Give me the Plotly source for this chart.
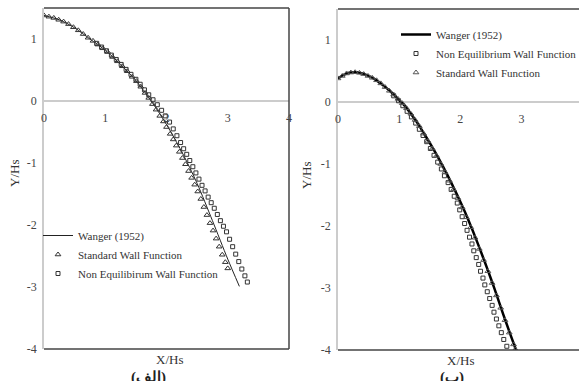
import plotly.graph_objects as go

# ---------------- data: panel (a) ----------------
a_wanger_x = [0, 0.25, 0.5, 0.75, 1.0, 1.25, 1.5, 1.75, 2.0, 2.25, 2.5, 2.75, 3.0, 3.19]
a_wanger_y = [1.38, 1.31, 1.18, 1.0, 0.82, 0.59, 0.33, 0.0, -0.38, -0.82, -1.33, -1.93, -2.55, -2.99]

a_std_x = [0.00, 0.08, 0.16, 0.24, 0.32, 0.40, 0.48, 0.56, 0.64, 0.72, 0.80, 0.88, 0.96, 1.04,
           1.12, 1.20, 1.28, 1.36, 1.44, 1.51, 1.58, 1.65, 1.71, 1.77, 1.83, 1.89, 1.95, 2.00,
           2.06, 2.11, 2.16, 2.21, 2.26, 2.31, 2.36, 2.41, 2.46, 2.51, 2.56, 2.61, 2.66, 2.71,
           2.76, 2.81, 2.86, 2.91, 2.96, 3.00]
a_std_y = [1.38, 1.36, 1.34, 1.31, 1.28, 1.24, 1.19, 1.14, 1.08, 1.02, 0.97, 0.91, 0.85, 0.79,
           0.71, 0.64, 0.56, 0.48, 0.39, 0.32, 0.23, 0.13, 0.05, -0.05, -0.14, -0.24, -0.33, -0.42,
           -0.53, -0.62, -0.72, -0.82, -0.92, -1.02, -1.13, -1.24, -1.35, -1.46, -1.58, -1.71, -1.84, -1.97,
           -2.09, -2.22, -2.35, -2.48, -2.60, -2.70]

a_neq_x = [0.86, 0.94, 1.02, 1.10, 1.18, 1.26, 1.34, 1.42, 1.50, 1.57, 1.64, 1.71, 1.78, 1.85,
           1.92, 1.98, 2.05, 2.11, 2.17, 2.23, 2.28, 2.33, 2.38, 2.43, 2.48, 2.53, 2.58, 2.63,
           2.68, 2.73, 2.78, 2.83, 2.88, 2.93, 2.98, 3.03, 3.08, 3.13, 3.18, 3.23, 3.28, 3.32]
a_neq_y = [0.93, 0.87, 0.81, 0.74, 0.67, 0.59, 0.51, 0.43, 0.35, 0.27, 0.18, 0.10, 0.02, -0.06,
           -0.15, -0.24, -0.34, -0.45, -0.56, -0.67, -0.77, -0.86, -0.96, -1.06, -1.16, -1.26, -1.36, -1.45,
           -1.55, -1.64, -1.73, -1.83, -1.93, -2.02, -2.11, -2.23, -2.35, -2.47, -2.59, -2.71, -2.82, -2.92]

# ---------------- data: panel (b) ----------------
b_wanger_x = [0, 0.1, 0.2, 0.3, 0.4, 0.5, 0.6, 0.7, 0.8, 0.9, 1.0, 1.1, 1.2, 1.3, 1.4, 1.5,
              1.6, 1.7, 1.8, 1.9, 2.0, 2.1, 2.2, 2.3, 2.4, 2.5, 2.6, 2.7, 2.8, 2.91]
b_wanger_y = [0.38, 0.44, 0.475, 0.48, 0.46, 0.42, 0.37, 0.30, 0.22, 0.13, 0.03, -0.07, -0.20,
              -0.34, -0.50, -0.66, -0.83, -1.01, -1.20, -1.40, -1.61, -1.83, -2.07, -2.32, -2.58,
              -2.85, -3.13, -3.42, -3.70, -4.0]

b_std_x = [0, 0.07, 0.14, 0.21, 0.28, 0.35, 0.42, 0.49, 0.56, 0.63, 0.70, 0.77, 0.84, 0.91, 0.98,
           1.05, 1.12, 1.19, 1.26, 1.33, 1.40, 1.47, 1.54, 1.61, 1.68, 1.75, 1.82, 1.89, 1.96, 2.03,
           2.10, 2.17, 2.24, 2.31, 2.38, 2.45, 2.52, 2.59, 2.66, 2.73, 2.80, 2.87, 2.90]
b_std_y = [0.38, 0.42, 0.46, 0.475, 0.48, 0.47, 0.45, 0.42, 0.39, 0.35, 0.30, 0.24, 0.18, 0.12, 0.05,
           -0.02, -0.10, -0.19, -0.29, -0.39, -0.51, -0.63, -0.75, -0.87, -1.00, -1.13, -1.27, -1.41, -1.55, -1.70,
           -1.86, -2.02, -2.19, -2.37, -2.55, -2.73, -2.92, -3.12, -3.32, -3.52, -3.72, -3.91, -3.99]

b_neq_x = [0.91, 0.99, 1.06, 1.13, 1.20, 1.27, 1.33, 1.39, 1.45, 1.51, 1.57, 1.63, 1.69, 1.74,
           1.80, 1.85, 1.90, 1.95, 1.99, 2.03, 2.07, 2.11, 2.15, 2.19, 2.22, 2.26, 2.30, 2.33,
           2.37, 2.40, 2.44, 2.48, 2.52, 2.55, 2.59, 2.63, 2.67, 2.71, 2.76]
b_neq_y = [0.10, 0.02, -0.06, -0.15, -0.24, -0.34, -0.44, -0.54, -0.64, -0.75, -0.86, -0.97, -1.08, -1.19,
           -1.30, -1.41, -1.52, -1.63, -1.74, -1.85, -1.96, -2.07, -2.18, -2.29, -2.40, -2.51, -2.62, -2.73,
           -2.84, -2.95, -3.06, -3.17, -3.28, -3.39, -3.50, -3.61, -3.72, -3.83, -3.94]

x_ticks = [0, 1, 2, 3, 4]
y_ticks = [-4, -3, -2, -1, 0, 1]
y_tick_labels = ["-4", "-3", "-2", "-1", "0", "1"]
x_title = "X/Hs"
y_title = "Y/Hs"
caption_a = "(الف)"
caption_b = "(ب)"

SERIF = "Liberation Serif"
MK = "#333333"

fig = go.Figure()

# panel (a)
fig.add_trace(go.Scatter(x=a_wanger_x, y=a_wanger_y, mode="lines", name="Wanger (1952)",
                         line=dict(color="#222222", width=1, shape="spline", smoothing=0.8),
                         xaxis="x", yaxis="y", legend="legend"))
fig.add_trace(go.Scatter(x=a_std_x, y=a_std_y, mode="markers", name="Standard Wall Function",
                         marker=dict(symbol="triangle-up-open", size=5, color=MK, line=dict(width=1, color=MK)),
                         xaxis="x", yaxis="y", legend="legend"))
fig.add_trace(go.Scatter(x=a_neq_x, y=a_neq_y, mode="markers", name="Non Equilibirum Wall Function",
                         marker=dict(symbol="square-open", size=4, color=MK, line=dict(width=1, color=MK)),
                         xaxis="x", yaxis="y", legend="legend"))

# panel (b)
fig.add_trace(go.Scatter(x=b_wanger_x, y=b_wanger_y, mode="lines", name="Wanger (1952)",
                         line=dict(color="#000000", width=2.5, shape="spline", smoothing=0.8),
                         xaxis="x2", yaxis="y2", legend="legend2"))
fig.add_trace(go.Scatter(x=b_neq_x, y=b_neq_y, mode="markers", name="Non Equilibrium Wall Function",
                         marker=dict(symbol="square-open", size=4, color=MK, line=dict(width=1, color=MK)),
                         xaxis="x2", yaxis="y2", legend="legend2"))
fig.add_trace(go.Scatter(x=b_std_x, y=b_std_y, mode="markers", name="Standard Wall Function",
                         marker=dict(symbol="triangle-up-open", size=5, color="#555555", line=dict(width=1, color="#555555")),
                         xaxis="x2", yaxis="y2", legend="legend2"))

W, H = 579, 381
ya_dom = [1 - 349 / H, 1 - 8 / H]
yb_dom = [1 - 350 / H, 1 - 9 / H]
xa_dom = [44 / W, 289 / W]
xb_dom = [338 / W, 1.0]
zero_a = ya_dom[0] + (4 / 5.5) * (ya_dom[1] - ya_dom[0])
zero_b = yb_dom[0] + (4 / 5.5) * (yb_dom[1] - yb_dom[0])

tickfont = dict(family=SERIF, size=12, color="#444444")
common_x = dict(showgrid=False, zeroline=False, showline=False, ticks="", tickvals=x_ticks,
                tickfont=tickfont, anchor="free", ticklabelstandoff=8, automargin=False)
common_y = dict(showgrid=False, zeroline=True, zerolinecolor="#cccccc", zerolinewidth=1.5,
                showline=True, linecolor="#cccccc", linewidth=1.5, ticks="", tickvals=y_ticks,
                ticktext=y_tick_labels, tickfont=tickfont, range=[-4, 1.5], ticklabelstandoff=3,
                automargin=False)

legfont = dict(family=SERIF, size=11, color="#333333")
fig.update_layout(
    width=W, height=H, margin=dict(l=0, r=0, t=0, b=0, autoexpand=False),
    paper_bgcolor="white", plot_bgcolor="white",
    font=dict(family=SERIF),
    xaxis=dict(domain=xa_dom, range=[0, 4], position=zero_a, **common_x),
    yaxis=dict(domain=ya_dom, anchor="x", **common_y),
    xaxis2=dict(domain=xb_dom, range=[0, 3.94], position=zero_b, **common_x),
    yaxis2=dict(domain=yb_dom, anchor="x2", **common_y),
    legend=dict(x=38 / W, y=1 - 221 / H, xanchor="left", yanchor="top", bgcolor="rgba(0,0,0,0)",
                font=legfont, tracegroupgap=0),
    legend2=dict(x=396 / W, y=1 - 20 / H, xanchor="left", yanchor="top", bgcolor="rgba(0,0,0,0)",
                 font=legfont, tracegroupgap=0),
    showlegend=True,
)

# plot-area borders (top / right / bottom)
border = dict(color="#444444", width=1.5)
fig.add_shape(type="line", xref="x domain", yref="y domain", x0=0, x1=1, y0=1, y1=1, line=border)
fig.add_shape(type="line", xref="x domain", yref="y domain", x0=1, x1=1, y0=0, y1=1, line=border)
fig.add_shape(type="line", xref="x domain", yref="y domain", x0=0, x1=1, y0=0, y1=0, line=border)
fig.add_shape(type="line", xref="x2 domain", yref="y2 domain", x0=0, x1=1, y0=1, y1=1, line=border)
fig.add_shape(type="line", xref="x2 domain", yref="y2 domain", x0=0, x1=1, y0=0, y1=0, line=border)

titlefont = dict(family=SERIF, size=13, color="#333333")
capfont = dict(family="Liberation Serif", size=15, color="#222222")
anns = [
    dict(text=x_title, x=169 / W, y=1 - 359 / H, xanchor="center", yanchor="middle"),
    dict(text=x_title, x=460 / W, y=1 - 360 / H, xanchor="center", yanchor="middle"),
    dict(text=y_title, x=14 / W, y=1 - 174 / H, xanchor="center", yanchor="middle", textangle=-90),
    dict(text=y_title, x=306 / W, y=1 - 176 / H, xanchor="center", yanchor="middle", textangle=-90),
]
for a in anns:
    a.update(xref="paper", yref="paper", showarrow=False, font=titlefont)
anns += [
    dict(text="<b>" + caption_a + "</b>", x=148 / W, y=1 - 367 / H, xref="paper", yref="paper",
         xanchor="center", showarrow=False, font=capfont, yanchor="top"),
    dict(text="<b>" + caption_b + "</b>", x=452 / W, y=1 - 367 / H, xref="paper", yref="paper",
         xanchor="center", showarrow=False, font=capfont, yanchor="top"),
]
fig.update_layout(annotations=anns)

fig.write_html("out.html")
